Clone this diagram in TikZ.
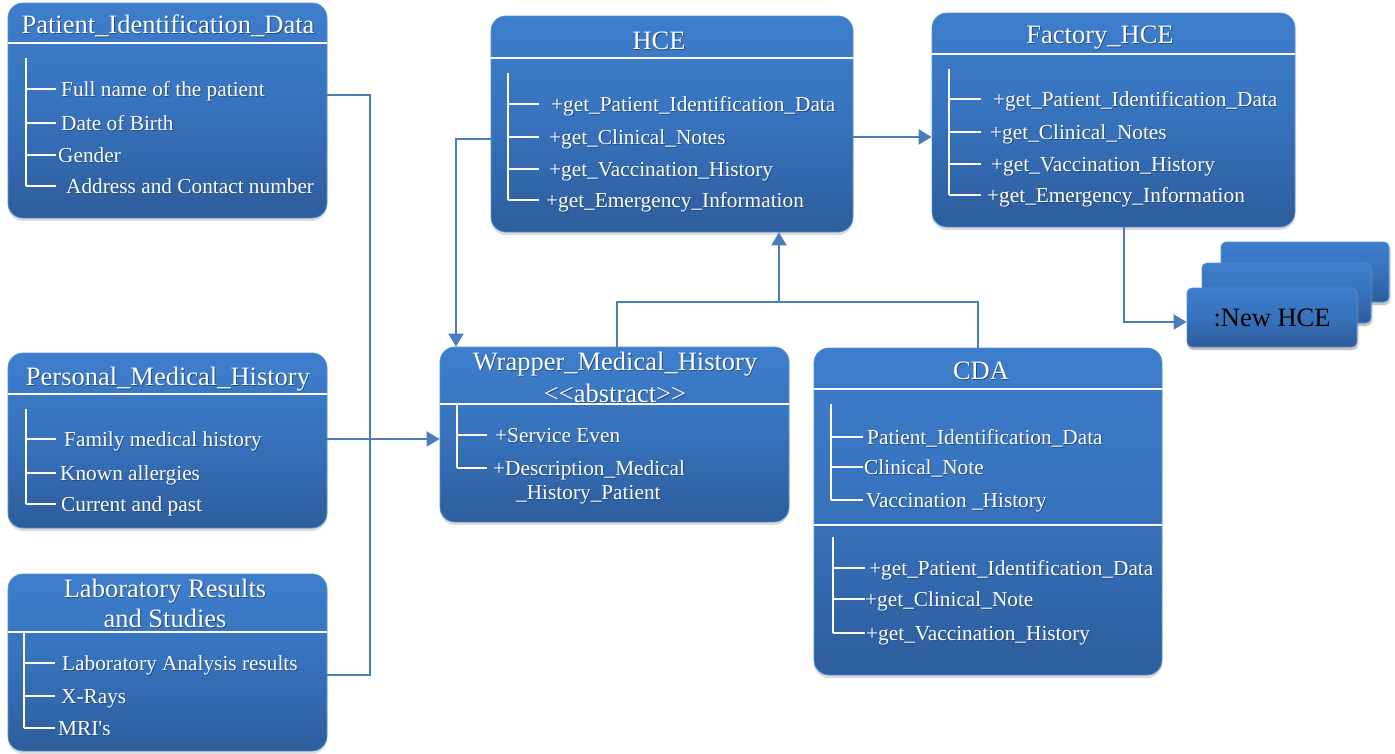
\documentclass[tikz,border=0pt]{standalone}
\usepackage{fontspec}
\setmainfont{Liberation Serif}[Ligatures=TeXOff]
\usetikzlibrary{arrows.meta,shadows}

\definecolor{boxtop}{RGB}{61,126,204}
\definecolor{boxmid}{RGB}{55,114,188}
\definecolor{boxbot}{RGB}{45,93,156}
\definecolor{boxedge}{RGB}{84,142,210}
\definecolor{link}{RGB}{74,126,187}
\definecolor{txtshade}{RGB}{36,76,132}

% white lettering with a soft dark offset copy underneath
\newcommand\shadetext[1]{\leavevmode\rlap{\kern0.9pt\raisebox{-1.3pt}{\color{txtshade}#1}}#1}

\tikzset{
  umlbox/.style={draw=boxedge, line width=0.8pt, rounded corners=15pt,
    top color=boxtop, bottom color=boxbot, middle color=boxmid, inner sep=0pt,
    drop shadow={opacity=0.28, shadow xshift=0pt, shadow yshift=-3pt}},
  objbox/.style={umlbox, rounded corners=5pt,
    drop shadow={opacity=0.28, shadow xshift=2pt, shadow yshift=-3pt}},
  title/.style={anchor=base, text=white, inner sep=0pt,
    font=\fontsize{26.5}{30}\selectfont},
  item/.style={anchor=base west, text=white, inner sep=0pt,
    font=\fontsize{21.3}{25}\selectfont},
  sepline/.style={white, line width=2pt},
  tree/.style={white, line width=2pt},
  conn/.style={link, line width=2pt},
  arrow/.style={conn, -{Triangle[width=15pt,length=13pt]}},
}

\begin{document}
\begin{tikzpicture}[x=1pt, y=-1pt]
\useasboundingbox (0,0) rectangle (1395,753);

% ---------- class boxes ----------
\node[umlbox, minimum width=319pt, minimum height=215pt] (pid)  at (167.5,110.5) {};
\node[umlbox, minimum width=319pt, minimum height=175pt] (pmh)  at (167.5,440.5) {};
\node[umlbox, minimum width=319pt, minimum height=177pt] (lab)  at (167.5,662.5) {};
\node[umlbox, minimum width=362pt, minimum height=216pt] (hce)  at (672,124) {};
\node[umlbox, minimum width=363pt, minimum height=214pt] (fac)  at (1113.5,120) {};
\node[umlbox, minimum width=349pt, minimum height=175pt] (wrap) at (614.5,434.5) {};
\node[umlbox, minimum width=348pt, minimum height=327pt] (cda)  at (988,511.5) {};

% stacked object instances
\node[objbox, minimum width=168pt, minimum height=60pt] (newA) at (1305,272) {};
\node[objbox, minimum width=169pt, minimum height=60pt] (newB) at (1286.5,293) {};
\node[objbox, minimum width=170pt, minimum height=59pt] (newC) at (1272,317.5) {};
\node[title, text=black] (newt) at (1272,326) {:New HCE};

% ---------- compartment separators ----------
\draw[sepline] (pid.west |- 0,43) -- (pid.east |- 0,43);
\draw[sepline] (pmh.west |- 0,394) -- (pmh.east |- 0,394);
\draw[sepline] (lab.west |- 0,632) -- (lab.east |- 0,632);
\draw[sepline] (hce.west |- 0,58) -- (hce.east |- 0,58);
\draw[sepline] (fac.west |- 0,54) -- (fac.east |- 0,54);
\draw[sepline] (wrap.west |- 0,404) -- (wrap.east |- 0,404);
\draw[sepline] (cda.west |- 0,389) -- (cda.east |- 0,389);
\draw[sepline] (cda.west |- 0,525) -- (cda.east |- 0,525);

% ---------- titles ----------
\node[title] (pidt) at (168,33) {\shadetext{Patient\_Identification\_Data}};
\node[title] (pmht) at (168,385) {\shadetext{Personal\_Medical\_History}};
\node[title] (labt1) at (165,597) {\shadetext{Laboratory Results}};
\node[title] (labt2) at (165,627) {\shadetext{and Studies}};
\node[title] (hcet) at (659,49) {\shadetext{HCE}};
\node[title] (fact) at (1100,43) {\shadetext{Factory\_HCE}};
\node[title] (wrapt1) at (615,370) {\shadetext{Wrapper\_Medical\_History}};
\node[title] (wrapt2) at (615,402) {\shadetext{<{}<abstract>{}>}};
\node[title] (cdat) at (981,379) {\shadetext{CDA}};

% ---------- attribute / operation trees ----------
% Patient_Identification_Data
\draw[tree] (26,58) -- (26,186);
\foreach \y in {89,123,155,186} \draw[tree] (26,\y) -- (56,\y);
\node[item] (pid1) at (61,96)  {\shadetext{Full name of the patient}};
\node[item] (pid2) at (61,130) {\shadetext{Date of Birth}};
\node[item] (pid3) at (58,162) {\shadetext{Gender}};
\node[item] (pid4) at (66,193) {\shadetext{Address and Contact number}};

% Personal_Medical_History
\draw[tree] (26,409) -- (26,504);
\foreach \y in {439,473,504} \draw[tree] (26,\y) -- (56,\y);
\node[item] (pmh1) at (64,446) {\shadetext{Family medical history}};
\node[item] (pmh2) at (60,480) {\shadetext{Known allergies}};
\node[item] (pmh3) at (61,511) {\shadetext{Current and past}};

% Laboratory Results and Studies
\draw[tree] (24,632) -- (24,728);
\foreach \y in {663,696,728} \draw[tree] (24,\y) -- (55,\y);
\node[item] (lab1) at (62,670) {\shadetext{Laboratory Analysis results}};
\node[item] (lab2) at (61,703) {\shadetext{X-Rays}};
\node[item] (lab3) at (58,735) {\shadetext{MRI's}};

% HCE
\draw[tree] (508,73) -- (508,200);
\foreach \y in {104,137,169,200} \draw[tree] (508,\y) -- (539,\y);
\node[item] (hce1) at (551,111) {\shadetext{+get\_Patient\_Identification\_Data}};
\node[item] (hce2) at (549,144) {\shadetext{+get\_Clinical\_Notes}};
\node[item] (hce3) at (549,176) {\shadetext{+get\_Vaccination\_History}};
\node[item] (hce4) at (546,207) {\shadetext{+get\_Emergency\_Information}};

% Factory_HCE
\draw[tree] (949,69) -- (949,195);
\foreach \y in {99,132,164,195} \draw[tree] (949,\y) -- (981,\y);
\node[item] (fac1) at (993,106) {\shadetext{+get\_Patient\_Identification\_Data}};
\node[item] (fac2) at (990,139) {\shadetext{+get\_Clinical\_Notes}};
\node[item] (fac3) at (991,171) {\shadetext{+get\_Vaccination\_History}};
\node[item] (fac4) at (987,202) {\shadetext{+get\_Emergency\_Information}};

% Wrapper_Medical_History
\draw[tree] (457,404) -- (457,468);
\foreach \y in {435,468} \draw[tree] (457,\y) -- (487,\y);
\node[item] (wrap1) at (495,442) {\shadetext{+Service Even}};
\node[item] (wrap2) at (493,475) {\shadetext{+Description\_Medical}};
\node[item] (wrap3) at (516,499) {\shadetext{\_History\_Patient}};

% CDA attributes
\draw[tree] (831,404) -- (831,500);
\foreach \y in {437,467,500} \draw[tree] (831,\y) -- (863,\y);
\node[item] (cda1) at (867,444) {\shadetext{Patient\_Identification\_Data}};
\node[item] (cda2) at (864,474) {\shadetext{Clinical\_Note}};
\node[item] (cda3) at (866,507) {\shadetext{Vaccination \_History}};

% CDA operations
\draw[tree] (833,537) -- (833,633);
\foreach \y in {568,599,633} \draw[tree] (833,\y) -- (865,\y);
\node[item] (cda4) at (869,575) {\shadetext{+get\_Patient\_Identification\_Data}};
\node[item] (cda5) at (865,606) {\shadetext{+get\_Clinical\_Note}};
\node[item] (cda6) at (866,640) {\shadetext{+get\_Vaccination\_History}};

% ---------- connectors ----------
\coordinate (pidj) at (370,95);
\coordinate (labj) at (370,675);
\draw[conn] (pid.east |- pidj) -- (pidj) -- (labj) -- (lab.east |- labj);
\draw[arrow] (pmh.east |- 0,439) -- (wrap.west |- 0,439);

\coordinate (hcej) at (456,139);
\draw[arrow] (hce.west |- hcej) -- (hcej) -- (hcej |- wrap.north);
\draw[arrow] (hce.east |- 0,137) -- (fac.west |- 0,137);

\coordinate (inh) at (779,302);
\draw[conn] (wrap.north -| 617,0) |- (inh) -| (cda.north -| 978,0);
\draw[arrow] (inh) -- (inh |- hce.south);

\coordinate (facj) at (1124,322);
\draw[arrow] (fac.south -| facj) |- (newC.west |- facj);
\end{tikzpicture}
\end{document}
